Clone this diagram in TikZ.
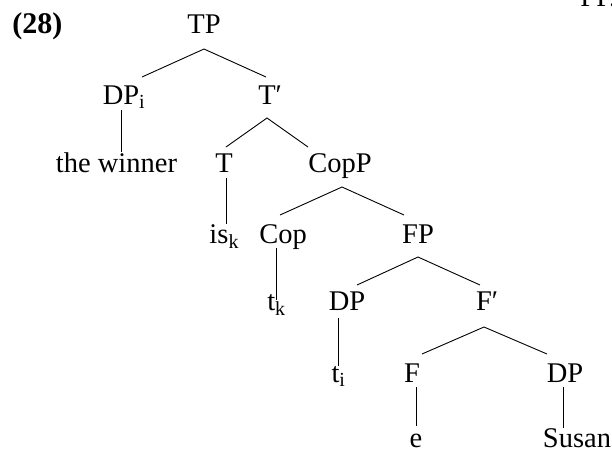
\documentclass[tikz,border=0pt]{standalone}
\usepackage{fontspec}
\setmainfont{Liberation Serif}
\usetikzlibrary{calc}
\tikzset{lbl/.style={inner sep=0pt, anchor=base, font=\fontsize{28.5}{34}\selectfont}}

\begin{document}
\begin{tikzpicture}[x=1pt,y=-1pt,line width=0.9pt]
\useasboundingbox (0,0) rectangle (612,453);
\node[lbl,anchor=base west,font=\fontsize{30}{36}\selectfont\bfseries] (ex) at (12,33) {(28)};
\node[lbl,anchor=base west] (hdr) at (580,6) {FP.};
\node[lbl] (tp) at (204,33) {TP};
\node[lbl] (dpi) at (121,104) {DP\rlap{\textsubscript{i}}};
\node[lbl] (tbar) at (267,104) {T\rlap{′}};
\node[lbl] (winner) at (116.5,172) {the winner};
\node[lbl] (t) at (224,172) {T};
\node[lbl] (copp) at (340,172) {CopP};
\node[lbl] (isk) at (219,243) {is\rlap{\textsubscript{k}}};
\node[lbl] (cop) at (283,243) {Cop};
\node[lbl] (fp) at (418,243) {FP};
\node[lbl] (tk) at (276.5,310) {t\textsubscript{k}};
\node[lbl] (dp) at (347,310) {DP};
\node[lbl] (fbar) at (484,310) {F\rlap{′}};
\node[lbl] (ti) at (338.5,382) {t\textsubscript{i}};
\node[lbl] (f) at (412,382) {F};
\node[lbl] (dpb) at (565,382) {DP};
\node[lbl] (e) at (416,447) {e};
\node[lbl] (susan) at (577,447) {Susan};
\draw ([yshift=-16pt]tp.base) +(-62,28) -- +(0,0) -- +(62,28);
\draw ([yshift=-14pt]tbar.base) +(-41,29) -- +(0,0) -- +(41,29);
\draw ([xshift=2pt,yshift=-15pt]copp.base) +(-62,28) -- +(0,0) -- +(62,28);
\draw ([yshift=-14pt]fp.base) +(-61,28) -- +(0,0) -- +(62,28);
\draw ([yshift=-17pt]fbar.base) +(-62,27) -- +(0,0) -- +(63,27);
\draw ([yshift=-6pt]dpi.base) -- (winner.north -| dpi.base);
\draw ([xshift=2pt,yshift=-6pt]t.base) -- ([xshift=2pt]isk.north -| t.base);
\draw ([yshift=-5pt]tk.north |- cop.base) -- ([yshift=-6pt]tk.north);
\draw ([yshift=-8pt]ti.north |- dp.base) -- (ti.north);
\draw ([yshift=-5pt]e.north |- f.base) -- ([yshift=7pt]e.north);
\draw ([xshift=-2pt,yshift=-5pt]dpb.base) -- ([xshift=-2pt]susan.north -| dpb.base);
\end{tikzpicture}
\end{document}
